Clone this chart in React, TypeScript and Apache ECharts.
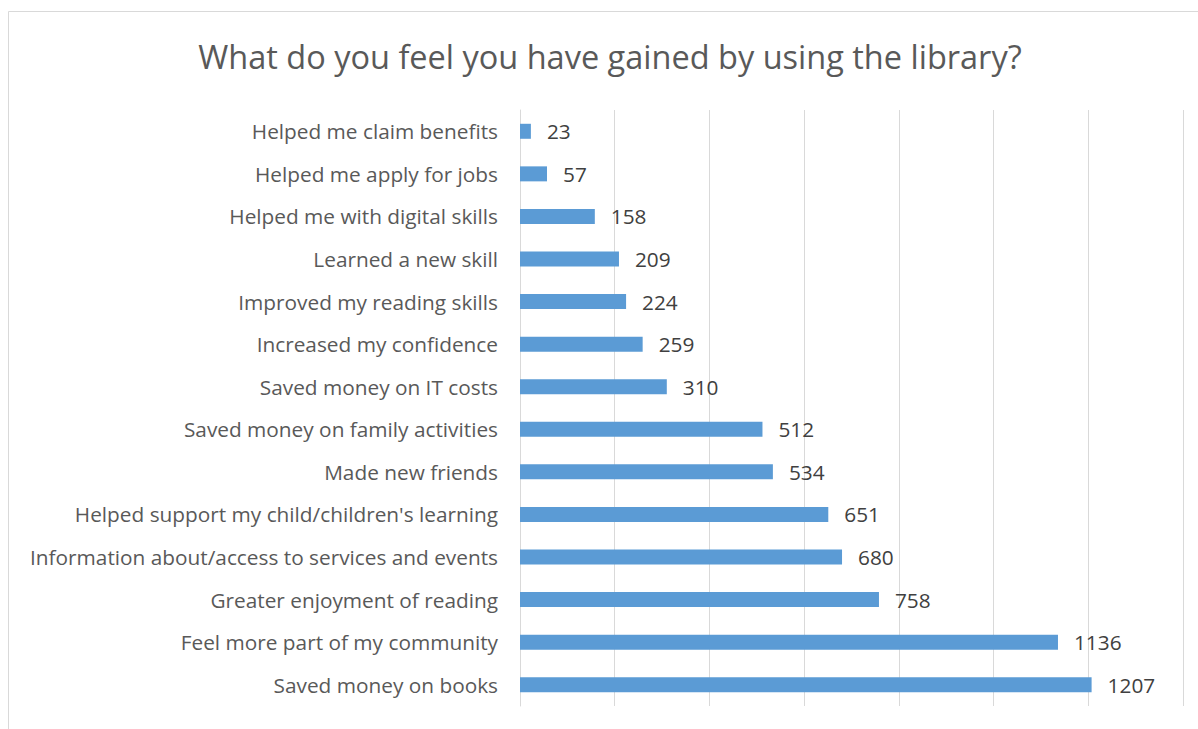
import React, { useEffect, useRef } from "react";
import * as echarts from "echarts";

const categories = [
  "Helped me claim benefits",
  "Helped me apply for jobs",
  "Helped me with digital skills",
  "Learned a new skill",
  "Improved my reading skills",
  "Increased my confidence",
  "Saved money on IT costs",
  "Saved money on family activities",
  "Made new friends",
  "Helped support my child/children's learning",
  "Information about/access to services and events",
  "Greater enjoyment of reading",
  "Feel more part of my community",
  "Saved money on books",
];
const values = [23, 57, 158, 209, 224, 259, 310, 512, 534, 651, 680, 758, 1136, 1207];
const titleText = "What do you feel you have gained by using the library?";
const FONT = "'Open Sans', sans-serif";

export default function App() {
  const ref = useRef<HTMLDivElement>(null);
  useEffect(() => {
    const chart = echarts.init(ref.current!, null, { renderer: "svg" });
    chart.setOption({
      animation: false,
      backgroundColor: "#ffffff",
      graphic: [
        {
          type: "rect",
          shape: { x: 8.5, y: 11.5, width: 1220, height: 800 },
          style: { fill: "none", stroke: "#d9d9d9", lineWidth: 1 },
          silent: true,
        },
        {
          type: "text",
          x: 610,
          y: 56,
          style: {
            text: titleText,
            fontFamily: FONT,
            fontSize: 32.5,
            fill: "#595959",
            textAlign: "center",
            textVerticalAlign: "middle",
          },
        },
      ],
      grid: { left: 520, right: 15, top: 110, bottom: 23, containLabel: false },
      xAxis: {
        type: "value",
        min: 0,
        max: 1400,
        interval: 200,
        axisLabel: { show: false },
        axisLine: { show: false },
        axisTick: { show: false },
        splitLine: { show: true, lineStyle: { color: "#d9d9d9", width: 1 } },
      },
      yAxis: {
        type: "category",
        data: categories,
        inverse: true,
        axisLine: { show: true, lineStyle: { color: "#d9d9d9" } },
        axisTick: { show: false },
        axisLabel: {
          fontFamily: FONT,
          fontSize: 20.8,
          color: "#595959",
          margin: 22,
        },
      },
      series: [
        {
          type: "bar",
          data: values,
          barWidth: 15,
          itemStyle: { color: "#5b9bd5" },
          label: {
            show: true,
            position: "right",
            distance: 16,
            fontFamily: FONT,
            fontSize: 20.8,
            color: "#404040",
          },
        },
      ],
    });
    return () => chart.dispose();
  }, []);
  return (
    <div
      ref={ref}
      style={{ position: "fixed", left: 0, top: 0, width: 1198, height: 729 }}
    />
  );
}
